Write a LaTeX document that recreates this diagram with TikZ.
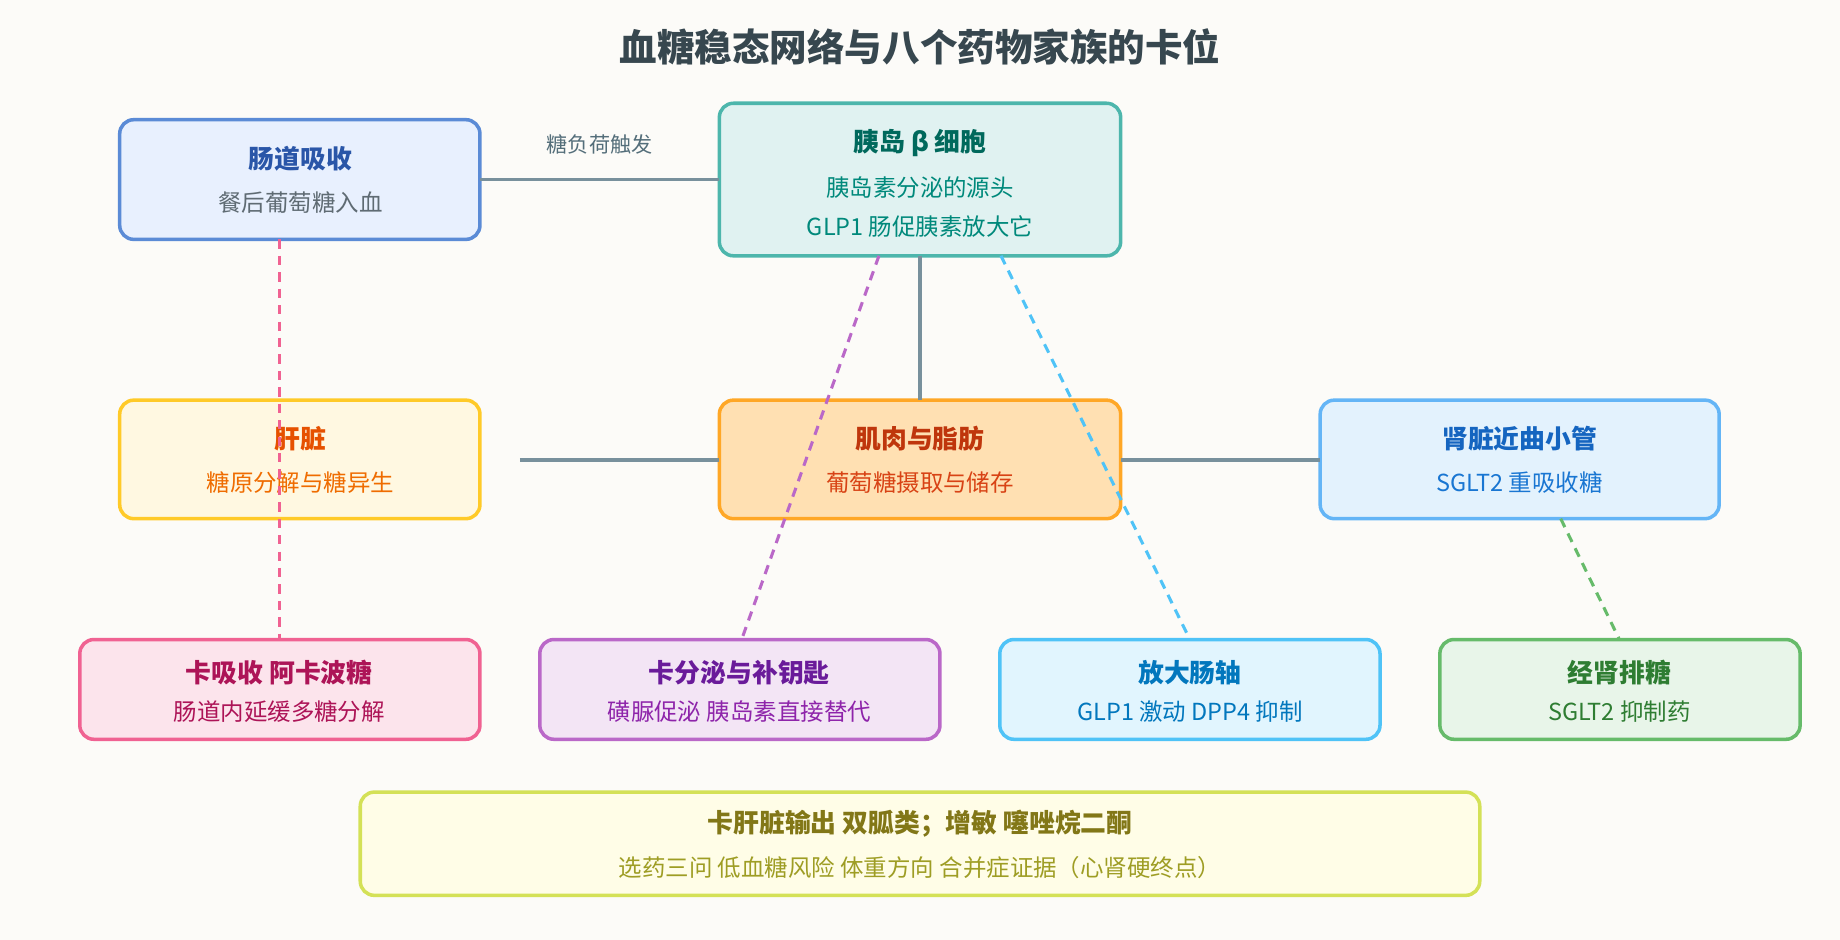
\documentclass[tikz,border=0pt]{standalone}
\usepackage{fontspec}
\setmainfont{Noto Sans CJK SC}
\definecolor{bg}{HTML}{FCFBF8}
\definecolor{titlec}{HTML}{37474F}
\definecolor{connc}{HTML}{78909C}
\definecolor{labc}{HTML}{546E7A}
\definecolor{dpink}{HTML}{F06292}
\definecolor{dpurp}{HTML}{BA68C8}
\definecolor{dblue}{HTML}{4FC3F7}
\definecolor{dgreen}{HTML}{66BB6A}
\begin{document}
\begin{tikzpicture}[x=0.5pt,y=-0.5pt,
 box/.style={draw=#1,line width=1.5pt,rounded corners=6pt},
 ttl/.style={font=\fontsize{11}{13}\selectfont\bfseries},
 sub/.style={font=\fontsize{10}{12}\selectfont},
 conn/.style={draw=connc,line width=1.6pt},
 dsh/.style={line width=1.3pt,dash pattern=on 4pt off 3pt}]
\fill[bg] (0,0) rectangle (1568,801);
\useasboundingbox (0,0) rectangle (1568,801);
\node[font=\fontsize{16}{18}\selectfont\bfseries,text=titlec] (title) at (784,40) {血糖稳态网络与八个药物家族的卡位};
\newcommand{\mybox}[7]{%
 \definecolor{f#1}{HTML}{#6}\definecolor{b#1}{HTML}{#7}%
 \path[box=b#1,fill=f#1] (#2,#3) rectangle (#4,#5);}
\mybox{A}{102}{102}{409}{204}{E8F0FE}{5B8BD6}
\mybox{B}{613}{88}{955}{218}{E0F2F1}{4DB6AC}
\mybox{C}{102}{341}{409}{442}{FFF8E1}{FFCA28}
\mybox{D}{613}{341}{955}{442}{FFE0B2}{FFA726}
\mybox{E}{1125}{341}{1465}{442}{E3F2FD}{64B5F6}
\mybox{F}{68}{545}{409}{630}{FCE4EC}{F06292}
\mybox{G}{460}{545}{801}{630}{F3E5F5}{BA68C8}
\mybox{H}{852}{545}{1176}{630}{E1F5FE}{4FC3F7}
\mybox{I}{1227}{545}{1534}{630}{E8F5E9}{66BB6A}
\mybox{J}{307}{675}{1261}{763}{FFFDE7}{D4E157}
\coordinate (Ar) at (409,153); \coordinate (Bl) at (613,153);
\coordinate (Bb) at (784,218); \coordinate (Dt) at (784,341);
\coordinate (Cfree) at (443,392); \coordinate (Dl) at (613,392);
\coordinate (Dr) at (955,392); \coordinate (El) at (1125,392);
\draw[conn] (Ar) -- (Bl);
\node[text=labc,font=\fontsize{9}{11}\selectfont] (lab) at (511,123) {糖负荷触发};
\draw[conn] (Bb) -- (Dt);
\draw[conn] (Cfree) -- (Dl);
\draw[conn] (Dr) -- (El);
\definecolor{tA}{HTML}{2A56A8}\definecolor{sA}{HTML}{5F6B73}
\node[ttl,text=tA] (At) at (256,135) {肠道吸收};
\node[sub,text=sA] (As) at (256,173) {餐后葡萄糖入血};
\definecolor{tB}{HTML}{00695C}\definecolor{sB}{HTML}{00897B}
\node[ttl,text=tB] (Bt) at (784,122) {胰岛 β 细胞};
\node[sub,text=sB] (Bs1) at (784,160) {胰岛素分泌的源头};
\node[sub,text=sB] (Bs2) at (784,193) {GLP1 肠促胰素放大它};
\definecolor{tC}{HTML}{E65100}\definecolor{sC}{HTML}{EF6C00}
\node[ttl,text=tC] (Ct) at (256,374) {肝脏};
\node[sub,text=sC] (Cs) at (256,411) {糖原分解与糖异生};
\definecolor{tD}{HTML}{BF360C}\definecolor{sD}{HTML}{D84315}
\node[ttl,text=tD] (Dtt) at (784,374) {肌肉与脂肪};
\node[sub,text=sD] (Ds) at (784,411) {葡萄糖摄取与储存};
\definecolor{tE}{HTML}{1565C0}\definecolor{sE}{HTML}{1976D2}
\node[ttl,text=tE] (Et) at (1295,374) {肾脏近曲小管};
\node[sub,text=sE] (Es) at (1295,411) {SGLT2 重吸收糖};
\definecolor{tF}{HTML}{AD1457}
\node[ttl,text=tF] (Ft) at (238,573) {卡吸收 阿卡波糖};
\node[sub,text=tF] (Fs) at (238,606) {肠道内延缓多糖分解};
\definecolor{tG}{HTML}{6A1B9A}\definecolor{sG}{HTML}{8E24AA}
\node[ttl,text=tG] (Gt) at (630,573) {卡分泌与补钥匙};
\node[sub,text=sG] (Gs) at (630,606) {磺脲促泌 胰岛素直接替代};
\definecolor{tH}{HTML}{0277BD}
\node[ttl,text=tH] (Ht) at (1014,573) {放大肠轴};
\node[sub,text=tH] (Hs) at (1014,606) {GLP1 激动 DPP4 抑制};
\definecolor{tI}{HTML}{2E7D32}
\node[ttl,text=tI] (It) at (1380,573) {经肾排糖};
\node[sub,text=tI] (Is) at (1380,606) {SGLT2 抑制药};
\definecolor{tJ}{HTML}{827717}\definecolor{sJ}{HTML}{9E9D24}
\node[ttl,text=tJ] (Jt) at (784,702) {卡肝脏输出 双胍类；增敏 噻唑烷二酮};
\node[sub,text=sJ] (Js) at (784,739) {选药三问 低血糖风险 体重方向 合并症证据（心肾硬终点）};
\coordinate (p1) at (238,204); \coordinate (p2) at (238,545);
\coordinate (q1) at (749,218); \coordinate (q2) at (632,545);
\coordinate (r1) at (853,218); \coordinate (r2) at (1014,545);
\coordinate (s1) at (1330,442); \coordinate (s2) at (1380,545);
\draw[dsh,dpink] (p1) -- (p2);
\draw[dsh,dpurp] (q1) -- (q2);
\draw[dsh,dblue] (r1) -- (r2);
\draw[dsh,dgreen] (s1) -- (s2);
\end{tikzpicture}
\end{document}
